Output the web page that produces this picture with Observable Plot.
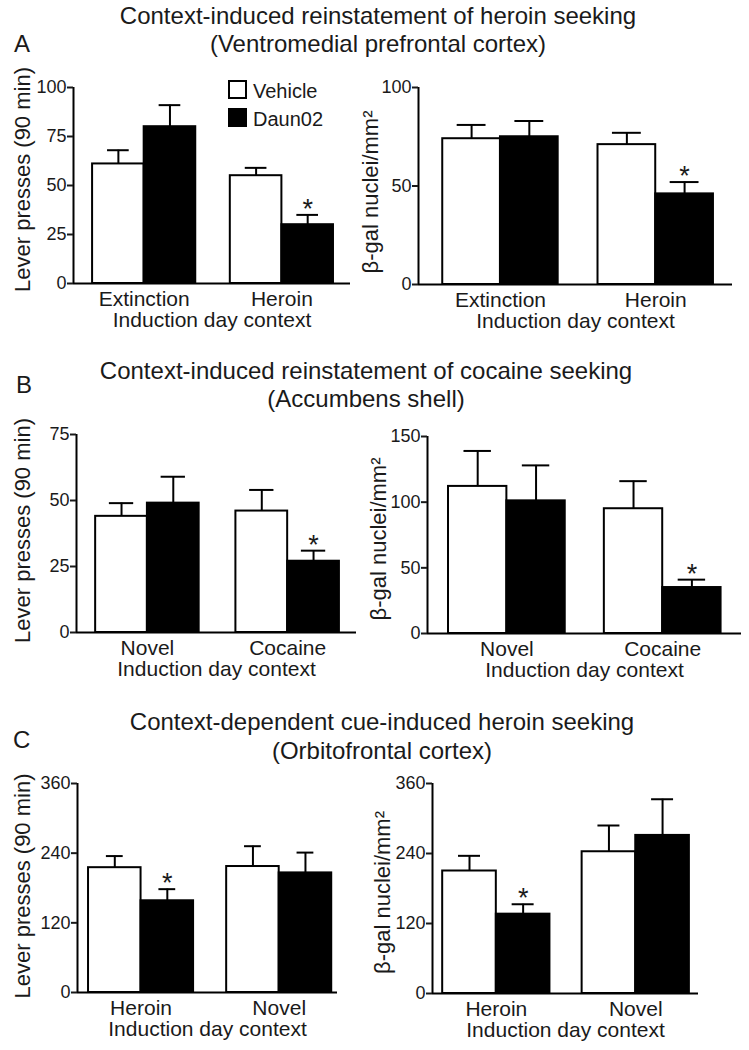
<!DOCTYPE html>
<html>
<head>
<meta charset="utf-8">
<script src="https://cdn.jsdelivr.net/npm/d3@7"></script>
<script src="https://cdn.jsdelivr.net/npm/@observablehq/plot@0.6"></script>
<style>
  body { margin: 0; background: #fff; }
  #page { position: relative; width: 749px; height: 1050px; overflow: hidden;
          font-family: "Liberation Sans", Arial, Helvetica, sans-serif; color: #1a1a1a; background: #fff; }
  .t { position: absolute; white-space: nowrap; line-height: 1; }
  .panel { position: absolute; }
  .sq { position: absolute; box-sizing: border-box; border: 2px solid #000; }
</style>
</head>
<body>
<div id="page"></div>
<script>
// ---------------- DATA ----------------
const treatments = ["Vehicle", "Daun02"];
const contextsA = ["Extinction", "Heroin"];
const contextsB = ["Novel", "Cocaine"];
const contextsC = ["Heroin", "Novel"];
// value order: [ctx1 Vehicle, ctx1 Daun02, ctx2 Vehicle, ctx2 Daun02]
const leverA = [61, 80, 55, 30];
const leverA_sem = [7, 11, 4, 5];
const leverA_sig = [false, false, false, true];
const galA = [74, 75, 71, 46];
const galA_sem = [7, 8, 6, 6];
const galA_sig = [false, false, false, true];
const leverB = [44, 49, 46, 27];
const leverB_sem = [5, 10, 8, 4];
const leverB_sig = [false, false, false, true];
const galB = [112, 101, 95, 35];
const galB_sem = [27, 27, 21, 6];
const galB_sig = [false, false, false, true];
const leverC = [215, 158, 217, 206];
const leverC_sem = [20, 20, 35, 35];
const leverC_sig = [false, true, false, false];
const galC = [210, 136, 243, 271];
const galC_sem = [26, 17, 45, 62];
const galC_sig = [false, true, false, false];
const ticksLeverA = [0, 25, 50, 75, 100];
const ticksGalA = [0, 50, 100];
const ticksLeverB = [0, 25, 50, 75];
const ticksGalB = [0, 50, 100, 150];
const ticksLeverC = [0, 120, 240, 360];
const ticksGalC = [0, 120, 240, 360];
const leverLabel = "Lever presses (90 min)";
const galLabel = "\u03B2-gal nuclei/mm\u00B2";
const xTitle = "Induction day context";
const titlesA = ["Context-induced reinstatement of heroin seeking", "(Ventromedial prefrontal cortex)"];
const titlesB = ["Context-induced reinstatement of cocaine seeking", "(Accumbens shell)"];
const titlesC = ["Context-dependent cue-induced heroin seeking", "(Orbitofrontal cortex)"];

// ---------------- LAYOUT ----------------
const FONT = '"Liberation Sans", Arial, Helvetica, sans-serif';
const INK = "#1a1a1a";
const page = document.getElementById("page");

function addText(txt, {left, center, baseline, size}) {
  const d = document.createElement("div");
  d.className = "t";
  d.textContent = txt;
  d.style.fontSize = size + "px";
  d.style.top = (baseline - 0.8465 * size) + "px";
  if (center !== undefined) {
    d.style.left = (center - 350) + "px";
    d.style.width = "700px";
    d.style.textAlign = "center";
  } else {
    d.style.left = left + "px";
  }
  page.appendChild(d);
}

function panel(ctx, mean, sem, sig, ticks, yLabel, L) {
  const rows = mean.map((m, i) => {
    const g = Math.floor(i / 2), t = i % 2;
    const x1 = g * (2 + L.gap) + t;
    return {context: ctx[g], treatment: treatments[t], mean: m, top: m + sem[i], sig: sig[i],
            x1, x2: x1 + 1, cx: x1 + 0.5};
  });
  const groups = ctx.map((c, g) => ({label: c, cx: g * (2 + L.gap) + 1}));
  const xDomain = [-L.padL, 4 + L.gap + L.padR];
  const yMax = ticks[ticks.length - 1];
  const mt = 14, mb = 54, mr = 8;
  const svgTop = L.yTop - mt;
  const height = L.yZero - svgTop + mb;
  const width = L.right - L.left + mr;
  const chart = Plot.plot({
    width, height,
    marginTop: mt, marginBottom: mb, marginLeft: L.axisX - L.left, marginRight: mr,
    style: {fontFamily: FONT, color: INK, background: "transparent", overflow: "visible"},
    x: {type: "linear", domain: xDomain, axis: null},
    y: {domain: [0, yMax]},
    color: {domain: treatments, range: ["#ffffff", "#000000"]},
    marks: [
      Plot.rect(rows, {x1: "x1", x2: "x2", y1: 0, y2: "mean", fill: "treatment", stroke: "#000", strokeWidth: 2}),
      Plot.ruleX(rows, {x: "cx", y1: "mean", y2: "top", stroke: "#000", strokeWidth: 2}),
      Plot.ruleY(rows, {y: "top", x1: d => d.cx - L.cap / 2, x2: d => d.cx + L.cap / 2, stroke: "#000", strokeWidth: 2}),
      Plot.text(rows.filter(d => d.sig), {x: "cx", y: "top", text: d => "*", fontSize: 27, lineAnchor: "bottom", dy: 3, fill: INK}),
      Plot.ruleY([0], {x1: xDomain[0], x2: xDomain[1], stroke: "#000", strokeWidth: 2}),
      Plot.ruleX([xDomain[0]], {y1: 0, y2: yMax, stroke: "#000", strokeWidth: 2}),
      Plot.axisY(ticks, {tickSize: 6, tickPadding: 1, fontSize: 18, strokeWidth: 2, label: null, fill: INK}),
      Plot.text(groups, {x: "cx", y: 0, text: "label", fontSize: 21, lineAnchor: "bottom", dy: 22, fill: INK}),
      Plot.text([xTitle], {frameAnchor: "bottom", dy: 43, fontSize: 21, lineAnchor: "bottom", fill: INK}),
      Plot.text([yLabel], {frameAnchor: "left", dx: L.labelX - L.axisX, dy: L.labelDy, rotate: -90, fontSize: 22,
                           textAnchor: "middle", lineAnchor: "middle", fill: INK})
    ]
  });
  const wrap = document.createElement("div");
  wrap.className = "panel";
  wrap.style.left = L.left + "px";
  wrap.style.top = svgTop + "px";
  wrap.appendChild(chart);
  page.appendChild(wrap);
}

// Titles
addText(titlesA[0], {center: 378, baseline: 24, size: 24});
addText(titlesA[1], {center: 378, baseline: 52, size: 24});
addText("A", {left: 14, baseline: 52, size: 24});
addText(titlesB[0], {center: 366, baseline: 379, size: 24});
addText(titlesB[1], {center: 366, baseline: 407, size: 24});
addText("B", {left: 16, baseline: 393, size: 24});
addText(titlesC[0], {center: 382, baseline: 730, size: 24});
addText(titlesC[1], {center: 382, baseline: 759, size: 24});
addText("C", {left: 13, baseline: 748, size: 24});

// Panels
panel(contextsA, leverA, leverA_sem, leverA_sig, ticksLeverA, leverLabel,
  {left: 0, axisX: 73, right: 350, yTop: 87, yZero: 283, padL: 0.37, gap: 0.67, padR: 0.33, cap: 0.42, labelX: 22, labelDy: -6});
panel(contextsA, galA, galA_sem, galA_sig, ticksGalA, galLabel,
  {left: 375, axisX: 418, right: 732, yTop: 87, yZero: 284, padL: 0.42, gap: 0.69, padR: 0.33, cap: 0.5, labelX: 370, labelDy: 6});
panel(contextsB, leverB, leverB_sem, leverB_sig, ticksLeverB, leverLabel,
  {left: 0, axisX: 76, right: 356, yTop: 434, yZero: 632, padL: 0.37, gap: 0.71, padR: 0.33, cap: 0.47, labelX: 22, labelDy: -3});
panel(contextsB, galB, galB_sem, galB_sig, ticksGalB, galLabel,
  {left: 375, axisX: 427, right: 741, yTop: 436, yZero: 633, padL: 0.36, gap: 0.67, padR: 0.35, cap: 0.47, labelX: 378, labelDy: 4});
panel(contextsC, leverC, leverC_sem, leverC_sig, ticksLeverC, leverLabel,
  {left: 0, axisX: 77, right: 337, yTop: 783, yZero: 992, padL: 0.21, gap: 0.63, padR: 0.11, cap: 0.32, labelX: 22, labelDy: -2});
panel(contextsC, galC, galC_sem, galC_sig, ticksGalC, galLabel,
  {left: 375, axisX: 432, right: 698, yTop: 783, yZero: 993, padL: 0.19, gap: 0.6, padR: 0.17, cap: 0.41, labelX: 382, labelDy: 4});

// Legend (panel A, left)
const legendFill = ["#ffffff", "#000000"];
treatments.forEach((name, i) => {
  const sq = document.createElement("div");
  sq.className = "sq";
  sq.style.left = "228px";
  sq.style.top = (80 + i * 28) + "px";
  sq.style.width = "19px";
  sq.style.height = "19px";
  sq.style.background = legendFill[i];
  page.appendChild(sq);
  addText(name, {left: 253, baseline: 97.5 + i * 28, size: 20});
});
</script>
</body>
</html>
